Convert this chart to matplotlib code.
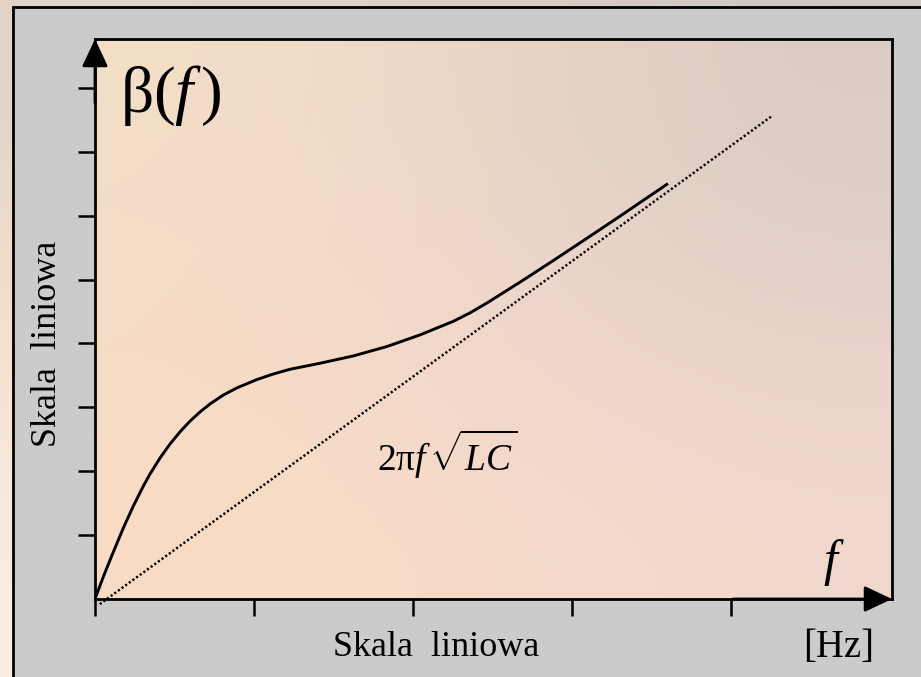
import matplotlib
matplotlib.use("Agg")

import numpy as np
import matplotlib.pyplot as plt
from matplotlib.patches import Rectangle

# krzywa beta(f) i jej asymptota 2*pi*f*sqrt(LC)
freq = [0, 0.052, 0.105, 0.178, 0.241, 0.304, 0.346, 0.409, 0.472, 0.535,
        0.597, 0.660, 0.723, 0.807, 0.891, 1.017, 1.121, 1.226, 1.415,
        1.623, 1.836, 2.044, 2.252, 2.358, 2.465, 2.673, 2.881, 3.094,
        3.302, 3.509, 3.604]
beta = [0, 0.346, 0.674, 1.110, 1.454, 1.767, 1.956, 2.207, 2.426, 2.617,
        2.782, 2.926, 3.052, 3.192, 3.302, 3.433, 3.521, 3.595, 3.689,
        3.803, 3.951, 4.133, 4.344, 4.477, 4.632, 4.958, 5.294, 5.645,
        5.991, 6.341, 6.501]
linia_f = [0.03, 4.264]
linia_beta = [-0.08, 7.57]

xTicks = [0, 1, 2, 3, 4]
yTicks = [1, 2, 3, 4, 5, 6, 7, 8]
xMax = 5.013
yMax = 8.764

plt.rcParams['font.family'] = ['Liberation Serif', 'DejaVu Serif']
plt.rcParams['mathtext.fontset'] = 'custom'
plt.rcParams['mathtext.rm'] = 'Liberation Serif'
plt.rcParams['mathtext.it'] = 'Liberation Serif:italic'

W, H = 921, 677
fig = plt.figure(figsize=(W / 100, H / 100), dpi=100)

# tlo slajdu (gradient)
tlo = np.array([
    [[228, 212, 198], [216, 206, 200], [206, 199, 196]],
    [[246, 224, 204], [238, 214, 204], [226, 210, 206]],
    [[252, 238, 228], [246, 222, 206], [238, 216, 206]],
]) / 255.0
axTlo = fig.add_axes([0, 0, 1, 1], zorder=-3)
axTlo.imshow(tlo, aspect='auto', interpolation='bicubic', extent=(0, 1, 0, 1))
axTlo.set_axis_off()

# szara ramka
fig.patches.append(Rectangle((13 / W, -0.05), 1.05, 1 - 7 / H + 0.05,
                             transform=fig.transFigure, facecolor='#cbcbcb',
                             edgecolor='black', linewidth=2.0, zorder=-2))

ax = fig.add_axes([95 / W, (H - 599) / H, (892 - 95) / W, (599 - 39) / H])
ax.set_facecolor('none')

wnetrze = np.array([
    [[243, 222, 200], [234, 214, 200], [217, 203, 195]],
    [[246, 220, 198], [240, 214, 204], [232, 210, 204]],
    [[248, 220, 196], [246, 219, 202], [240, 216, 204]],
]) / 255.0
ax.imshow(wnetrze, aspect='auto', interpolation='bicubic',
          extent=(0, xMax, 0, yMax), zorder=0)

ax.plot(freq, beta, color='black', linewidth=2.1, solid_joinstyle='round',
        solid_capstyle='butt', zorder=3)
ax.plot(linia_f, linia_beta, color='black', linewidth=1.75,
        linestyle=(0, (0.9, 0.95)), dash_capstyle='butt', clip_on=False,
        zorder=3)

ax.set_xlim(0, xMax)
ax.set_ylim(0, yMax)
ax.set_xticks(xTicks)
ax.set_yticks(yTicks)
ax.set_xticklabels([])
ax.set_yticklabels([])
ax.tick_params(axis='x', direction='out', length=12.5, width=1.8, color='black')
ax.tick_params(axis='y', direction='out', length=12.5, width=1.8, color='black')
for s in ax.spines.values():
    s.set_linewidth(2.0)
    s.set_color('black')
    s.set_zorder(4)

# strzalki osi
grot = dict(arrowstyle='-|>,head_length=0.85,head_width=0.4',
            mutation_scale=20, color='black', linewidth=2.0,
            shrinkA=0, shrinkB=0)
ax.annotate('', xy=(0, yMax), xytext=(0, yMax - 1), arrowprops=grot,
            annotation_clip=False)
ax.annotate('', xy=(xMax, 0), xytext=(xMax - 1, 0), arrowprops=grot,
            annotation_clip=False)

fig.text(171 / W, 1 - 95 / H, r'$\mathrm{\beta}(f\,)$', fontsize=47,
         ha='center', va='center')
fig.text(834 / W, 1 - 563 / H, r'$f$', fontsize=36, ha='center', va='center')
fig.text(447 / W, 1 - 454 / H, r'$2\mathrm{\pi}f\,\sqrt{LC}$', fontsize=27,
         ha='center', va='center')
fig.text(436 / W, 1 - 648 / H, 'Skala  liniowa', fontsize=26,
         ha='center', va='center')
fig.text(839 / W, 1 - 648 / H, '[Hz]', fontsize=28, ha='center', va='center')
fig.text(48 / W, 1 - 344 / H, 'Skala  liniowa', fontsize=26, rotation=90,
         ha='center', va='center')

fig.savefig('out.png', dpi=100)
